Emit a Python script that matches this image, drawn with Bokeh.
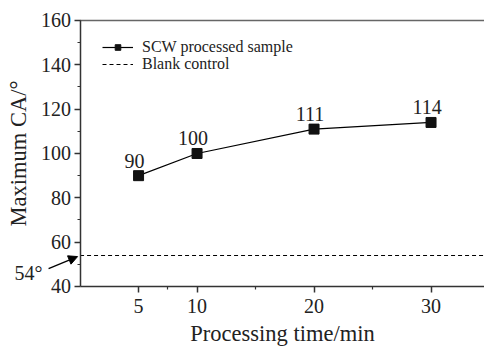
from bokeh.plotting import figure
from bokeh.models import (FixedTicker, Range1d, Arrow, NormalHead, LinearAxis,
                          Legend, LegendItem, ColumnDataSource)
from bokeh.core.properties import value
from bokeh.embed import file_html
from bokeh.resources import INLINE

time_min = [5, 10, 20, 30]
max_ca = [90, 100, 111, 114]
blank_ca = 54
blank_label = "54°"
x_ticks = [5, 10, 20, 30]
x_minor = [7.5, 15, 25]
y_ticks = [40, 60, 80, 100, 120, 140, 160]
y_minor = [50, 70, 90, 110, 130, 150]

FONT = "Liberation Serif"
X_LO, X_HI = 0, 34.57
Y_LO, Y_HI = 40, 160

p = figure(width=484, height=346, output_backend="svg", toolbar_location=None,
           x_range=Range1d(-6.8, X_HI), y_range=Range1d(12.93, 169.02),
           x_axis_location=None, y_axis_location=None,
           min_border_left=0, min_border_right=0, min_border_top=0, min_border_bottom=0)
p.grid.visible = False
p.outline_line_color = None

xax = LinearAxis(fixed_location=Y_LO, bounds=(X_LO, X_HI))
yax = LinearAxis(fixed_location=X_LO, bounds=(Y_LO, Y_HI))
p.add_layout(xax, "below")
p.add_layout(yax, "left")

for ax in (xax, yax):
    ax.axis_line_color = "#333333"
    ax.axis_line_width = 1.5
    ax.major_tick_line_color = "#333333"
    ax.minor_tick_line_color = "#333333"
    ax.major_tick_line_width = 1.5
    ax.minor_tick_line_width = 1.2
    ax.major_tick_out = 6
    ax.major_tick_in = 0
    ax.minor_tick_out = 3
    ax.minor_tick_in = 0
    ax.major_label_text_font = FONT
    ax.major_label_text_font_size = "20px"
    ax.major_label_text_color = "#222222"
    ax.axis_label_text_font = FONT
    ax.axis_label_text_font_size = "22.5px"
    ax.axis_label_text_font_style = "normal"
    ax.axis_label_text_color = "#222222"

xax.ticker = FixedTicker(ticks=x_ticks, minor_ticks=x_minor)
yax.ticker = FixedTicker(ticks=y_ticks, minor_ticks=y_minor)
xax.axis_label = "Processing time/min"
yax.axis_label = "Maximum CA/°"
xax.major_label_standoff = 7
yax.major_label_standoff = 3
xax.axis_label_standoff = 4
yax.axis_label_standoff = 8

# top frame border
p.line([X_LO, X_HI], [Y_HI, Y_HI], line_color="#666666", line_width=1.5)

src = ColumnDataSource(dict(x=time_min, y=max_ca, t=[str(v) for v in max_ca]))
ln = p.line("x", "y", source=src, line_color="black", line_width=1.2)
mk = p.scatter("x", "y", source=src, marker="square", size=10, fill_color="#111111",
               line_color="#111111")
p.text("x", "y", text="t", source=src, text_font=value(FONT), text_font_size="20px",
       text_align="center", text_baseline="bottom", x_offset=-4, y_offset=-8,
       text_color="#222222")

dash = p.line([X_LO, X_HI], [blank_ca, blank_ca], line_color="black", line_width=1.1,
              line_dash="4 3")

leg_style = dict(label_text_font=FONT, label_text_font_size="16px",
                 label_text_color="#222222", glyph_width=31, glyph_height=14,
                 label_height=14, label_standoff=9, spacing=0, padding=0, margin=0,
                 border_line_color=None, background_fill_alpha=0)
leg1 = Legend(items=[LegendItem(label="SCW processed sample", renderers=[ln, mk])],
              location=(102, 290), **leg_style)
leg2 = Legend(items=[LegendItem(label="Blank control", renderers=[dash])],
              location=(102, 273), **leg_style)
p.add_layout(leg1, "center")
p.add_layout(leg2, "center")

p.add_layout(Arrow(end=NormalHead(size=9, fill_color="black", line_color="black"),
                   x_start=-2.69, y_start=48.1, x_end=-0.21, y_end=53.5,
                   line_color="black", line_width=1.3))
p.text(x=[-4.4], y=[46.3], text=[blank_label], text_font=value(FONT),
       text_font_size="20px", text_align="center", text_baseline="middle",
       text_color="#222222")

open("out.html", "w").write(file_html(p, INLINE))
